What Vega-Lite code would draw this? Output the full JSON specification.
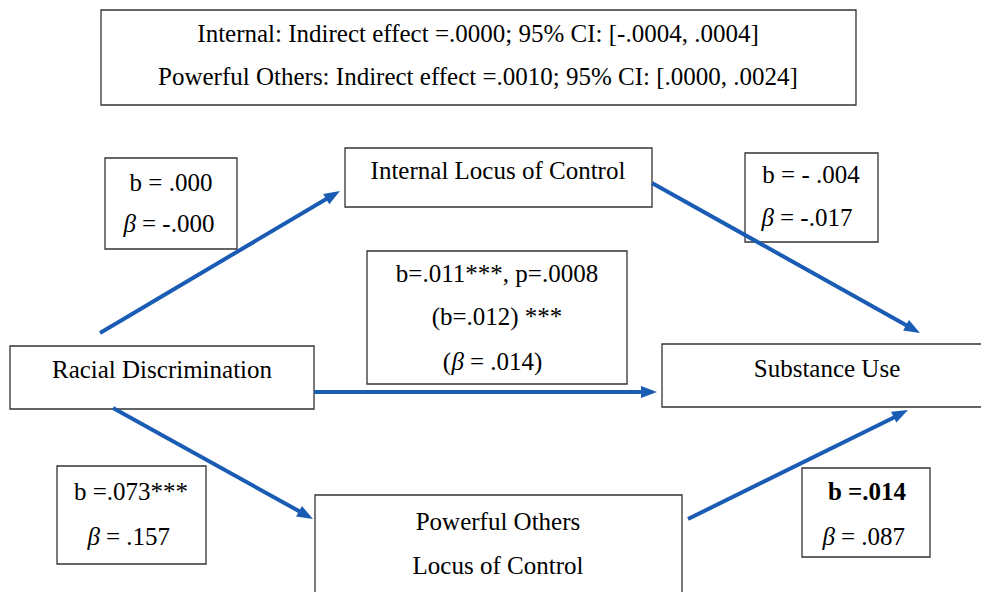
{
  "$schema": "https://vega.github.io/schema/vega-lite/v6.json",
  "width": 981,
  "height": 592,
  "padding": 0,
  "autosize": {"type": "fit", "contains": "padding"},
  "background": "white",
  "config": {"view": {"stroke": null}},
  "datasets": {
    "boxes": [
      {"x": 101, "x2": 856, "y": 10, "y2": 105},
      {"x": 345, "x2": 652, "y": 148, "y2": 207},
      {"x": 105, "x2": 237, "y": 158, "y2": 249},
      {"x": 745, "x2": 878, "y": 153, "y2": 242},
      {"x": 367, "x2": 627, "y": 251, "y2": 384},
      {"x": 10, "x2": 314, "y": 346, "y2": 409},
      {"x": 662, "x2": 990, "y": 344, "y2": 407},
      {"x": 57, "x2": 206, "y": 466, "y2": 564},
      {"x": 315, "x2": 682, "y": 495, "y2": 600},
      {"x": 802, "x2": 930, "y": 468, "y2": 557}
    ],
    "texts": [
      {"x": 478, "y": 34, "t": "Internal: Indirect effect =.0000; 95% CI: [-.0004, .0004]"},
      {"x": 478, "y": 77, "t": "Powerful Others: Indirect effect =.0010; 95% CI: [.0000, .0024]"},
      {"x": 498, "y": 171, "t": "Internal Locus of Control"},
      {"x": 171, "y": 183, "t": "b = .000"},
      {"x": 811, "y": 175, "t": "b = - .004"},
      {"x": 497, "y": 274, "t": "b=.011***, p=.0008"},
      {"x": 497, "y": 317, "t": "(b=.012) ***"},
      {"x": 162, "y": 370, "t": "Racial Discrimination"},
      {"x": 827, "y": 369, "t": "Substance Use"},
      {"x": 131, "y": 492, "t": "b =.073***"},
      {"x": 498, "y": 522, "t": "Powerful Others"},
      {"x": 498, "y": 566, "t": "Locus of Control"}
    ],
    "bold": [
      {"x": 867, "y": 492, "t": "b =.014"}
    ],
    "beta": [
      {"x": 136, "y": 224, "t": "= -.000", "p": ""},
      {"x": 774, "y": 218, "t": "= -.017", "p": ""},
      {"x": 464, "y": 362, "t": "= .014)", "p": "("},
      {"x": 100, "y": 537, "t": "= .157", "p": ""},
      {"x": 835, "y": 537, "t": "= .087", "p": ""}
    ],
    "arrows": [
      {"x": 100, "y": 333, "ex": 333, "ey": 195, "tx": 340, "ty": 191, "a": -30.6},
      {"x": 652, "y": 183, "ex": 913, "ey": 329, "tx": 920, "ty": 333, "a": 29.2},
      {"x": 314, "y": 392, "ex": 649, "ey": 392, "tx": 657, "ty": 392, "a": 0},
      {"x": 113, "y": 408, "ex": 306, "ey": 515, "tx": 313, "ty": 519, "a": 29.0},
      {"x": 688, "y": 519, "ex": 901, "ey": 414, "tx": 908, "ty": 410, "a": -26.4}
    ]
  },
  "layer": [
    {
      "data": {"name": "boxes"},
      "mark": {"type": "rect", "fill": "white", "stroke": "#333333", "strokeWidth": 1.3, "clip": true},
      "encoding": {
        "x": {"field": "x", "type": "quantitative", "scale": {"domain": [0, 981], "nice": false, "zero": false}, "axis": null},
        "x2": {"field": "x2"},
        "y": {"field": "y", "type": "quantitative", "scale": {"domain": [0, 592], "nice": false, "zero": false, "reverse": true}, "axis": null},
        "y2": {"field": "y2"}
      }
    },
    {
      "data": {"name": "texts"},
      "mark": {"type": "text", "align": "center", "baseline": "middle", "font": "Liberation Serif", "fontSize": 25, "color": "black"},
      "encoding": {
        "x": {"field": "x", "type": "quantitative"},
        "y": {"field": "y", "type": "quantitative"},
        "text": {"field": "t"}
      }
    },
    {
      "data": {"name": "bold"},
      "mark": {"type": "text", "align": "center", "baseline": "middle", "fontWeight": "bold", "font": "Liberation Serif", "fontSize": 25, "color": "black"},
      "encoding": {
        "x": {"field": "x", "type": "quantitative"},
        "y": {"field": "y", "type": "quantitative"},
        "text": {"field": "t"}
      }
    },
    {
      "data": {"name": "beta"},
      "mark": {"type": "text", "align": "right", "baseline": "middle", "fontStyle": "italic", "font": "Liberation Serif", "fontSize": 25, "color": "black"},
      "encoding": {
        "x": {"field": "x", "type": "quantitative"},
        "y": {"field": "y", "type": "quantitative"},
        "text": {"value": "β"}
      }
    },
    {
      "data": {"name": "beta"},
      "mark": {"type": "text", "align": "left", "baseline": "middle", "dx": 6, "font": "Liberation Serif", "fontSize": 25, "color": "black"},
      "encoding": {
        "x": {"field": "x", "type": "quantitative"},
        "y": {"field": "y", "type": "quantitative"},
        "text": {"field": "t"}
      }
    },
    {
      "data": {"name": "beta"},
      "mark": {"type": "text", "align": "right", "baseline": "middle", "dx": -13, "font": "Liberation Serif", "fontSize": 25, "color": "black"},
      "encoding": {
        "x": {"field": "x", "type": "quantitative"},
        "y": {"field": "y", "type": "quantitative"},
        "text": {"field": "p"}
      }
    },
    {
      "data": {"name": "arrows"},
      "mark": {"type": "rule", "color": "#1a5cb4", "strokeWidth": 4},
      "encoding": {
        "x": {"field": "x", "type": "quantitative"},
        "y": {"field": "y", "type": "quantitative"},
        "x2": {"field": "ex"},
        "y2": {"field": "ey"}
      }
    },
    {
      "data": {"name": "arrows"},
      "mark": {"type": "point", "shape": "M0,0L-2,-0.75L-2,0.75Z", "filled": true, "opacity": 1, "color": "#1a5cb4", "size": 256},
      "encoding": {
        "x": {"field": "tx", "type": "quantitative"},
        "y": {"field": "ty", "type": "quantitative"},
        "angle": {"field": "a", "type": "quantitative", "scale": null}
      }
    }
  ]
}
